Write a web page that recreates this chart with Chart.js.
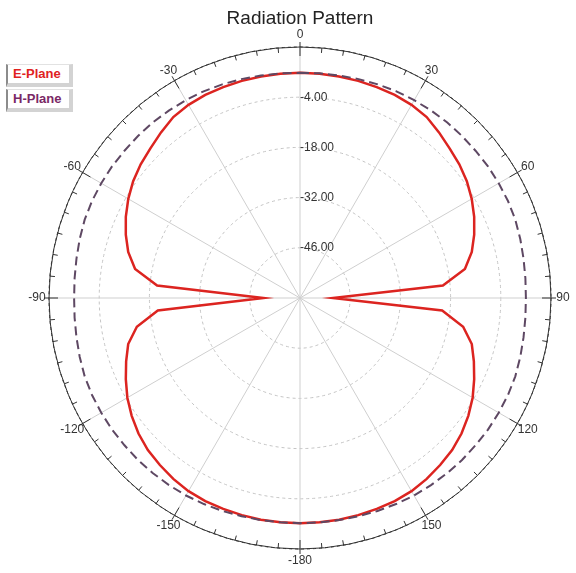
<!DOCTYPE html>
<html>
<head>
<meta charset="utf-8">
<script src="https://cdn.jsdelivr.net/npm/chart.js@4.4.1/dist/chart.umd.min.js"></script>
<style>
    html, body { margin: 0; padding: 0; background: #fff; }
    #wrap { position: relative; width: 576px; height: 573px; }
    .item {
        position: absolute;
        left: 6px;
        width: 56px;
        height: 18px;
        padding-left: 5px;
        background: #fff;
        border-left: 2px solid #8c8c8c;
        border-top: 1px solid #e2e2e2;
        border-right: 4px solid #d3d3d3;
        border-bottom: 4px solid #d3d3d3;
        font: bold 13px 'Liberation Sans', Arial, sans-serif;
        line-height: 18px;
    }
    .e { top: 64px; color: #e0221f; }
    .h { top: 89px; color: #7a2866; }
</style>
</head>
<body>
<div id="wrap">
    <canvas id="chart" width="576" height="573"></canvas>
    <div class="item e">E-Plane</div>
    <div class="item h">H-Plane</div>
</div>
<script>
// angles every 5 degrees, clockwise from the top
const angles = [
    0, 5, 10, 15, 20, 25, 30, 35, 40, 45, 50, 55, 60, 65, 70, 75, 80, 85,
    90, 95, 100, 105, 110, 115, 120, 125, 130, 135, 140, 145, 150, 155, 160, 165, 170, 175,
    -180, -175, -170, -165, -160, -155, -150, -145, -140, -135, -130, -125, -120, -115, -110, -105, -100, -95,
    -90, -85, -80, -75, -70, -65, -60, -55, -50, -45, -40, -35, -30, -25, -20, -15, -10, -5,
]

const ePlane = [
    2.8, 2.8, 2.7, 2.7, 2.6, 2.5, 2.2, 1.6, 0.3, -1.0, -2.0, -3.2, -4.7, -6.4, -8.3, -10.4, -13.3, -20.0,
    -50.8, -20.2, -13.8, -10.4, -8.4, -6.4, -4.4, -2.7, -1.2, 0.0, 0.8, 1.6, 2.2, 2.5, 2.6, 2.7, 2.8, 2.8,
    2.8, 2.8, 2.8, 2.7, 2.6, 2.5, 2.2, 1.6, 0.8, 0.0, -1.2, -2.7, -4.4, -6.4, -8.4, -10.4, -13.8, -20.2,
    -49.8, -20.0, -13.3, -10.4, -8.3, -6.4, -4.7, -3.2, -2.0, -1.0, 0.3, 1.6, 2.2, 2.5, 2.6, 2.7, 2.7, 2.8,
]

const hPlane = [
    2.8, 2.9, 3.0, 3.2, 3.4, 3.6, 3.7, 3.8, 3.9, 3.9, 3.9, 4.0, 4.0, 4.0, 3.9, 3.6, 3.3, 3.1,
    3.0, 3.1, 3.3, 3.6, 3.9, 4.0, 4.0, 4.0, 3.9, 3.9, 3.8, 3.7, 3.6, 3.4, 3.2, 3.0, 2.9, 2.8,
    2.8, 2.8, 2.9, 3.0, 3.2, 3.4, 3.6, 3.7, 3.8, 3.9, 3.9, 4.0, 4.0, 4.0, 3.9, 3.6, 3.3, 3.1,
    3.0, 3.1, 3.3, 3.6, 3.9, 4.0, 4.0, 4.0, 3.9, 3.9, 3.9, 3.8, 3.7, 3.6, 3.4, 3.2, 3.0, 2.9,
]

const ringLabels = [-4, -18, -32, -46]
const scaleMin = -60
const scaleMax = 10
const scaleStep = 14

const fontFamily = "'Liberation Sans', Arial, sans-serif"

// outer degree ring, angle labels and dB labels
const polarDecor = {
    id: 'polarDecor',
    afterDraw(chart) {
        const scale = chart.scales.r
        const ctx = chart.ctx
        const cx = scale.xCenter
        const cy = scale.yCenter
        const R = scale.drawingArea

        ctx.save()
        ctx.strokeStyle = '#333'
        ctx.lineWidth = 1
        ctx.beginPath()
        ctx.arc(cx, cy, R, 0, Math.PI * 2)
        ctx.stroke()

        angles.forEach((a, i) => {
            const major = i % 6 === 0
            const inner = scale.getPointPosition(i, R - (major ? 9 : 5))
            const outer = scale.getPointPosition(i, R + (major ? 5 : 0))
            ctx.beginPath()
            ctx.moveTo(inner.x, inner.y)
            ctx.lineTo(outer.x, outer.y)
            ctx.stroke()
        })

        ctx.fillStyle = '#333'
        ctx.font = '12px ' + fontFamily
        ctx.textAlign = 'center'
        ctx.textBaseline = 'middle'
        angles.forEach((a, i) => {
            if (i % 6 !== 0) {
                return
            }
            const p = scale.getPointPosition(i, R + 12)
            ctx.fillText(String(a), p.x, p.y)
        })

        ctx.textAlign = 'left'
        ringLabels.forEach((v) => {
            const d = scale.getDistanceFromCenterForValue(v)
            ctx.fillText(v.toFixed(2), cx, cy - d)
        })
        ctx.restore()
    },
}

new Chart(document.getElementById('chart'), {
    type: 'radar',
    data: {
        labels: angles,
        datasets: [
            {
                label: 'H-Plane',
                data: hPlane,
                borderColor: '#5e4863',
                borderWidth: 2,
                borderDash: [9, 5],
                pointRadius: 0,
                fill: false,
                tension: 0,
            },
            {
                label: 'E-Plane',
                data: ePlane,
                borderColor: '#dc2420',
                borderWidth: 2.5,
                pointRadius: 0,
                fill: false,
                tension: 0,
            },
        ],
    },
    options: {
        responsive: false,
        animation: false,
        layout: {
            padding: { left: 49, right: 25, top: 0, bottom: 24 },
        },
        plugins: {
            legend: { display: false },
            tooltip: { enabled: false },
            title: {
                display: true,
                text: 'Radiation Pattern',
                color: '#222',
                font: { family: fontFamily, size: 19, weight: 'normal' },
                padding: { top: 7, bottom: 17.2 },
            },
        },
        scales: {
            r: {
                min: scaleMin,
                max: scaleMax,
                ticks: { display: false, stepSize: scaleStep },
                pointLabels: { display: false },
                grid: {
                    circular: true,
                    color: (ctx) => (ctx.tick && ctx.tick.value === scaleMax ? '#333' : '#c4c4c4'),
                    lineWidth: 1,
                },
                border: { dash: [3, 3] },
                angleLines: {
                    color: '#cfcfcf',
                    lineWidth: (ctx) => (ctx.index % 6 === 0 ? 1 : 0),
                },
            },
        },
    },
    plugins: [polarDecor],
})
</script>
</body>
</html>
